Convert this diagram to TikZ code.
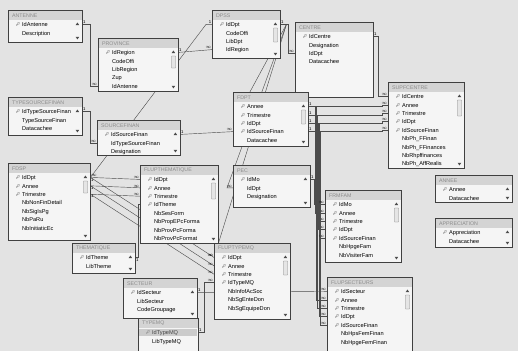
\documentclass[tikz,border=0pt]{standalone}
\usepackage{fontspec}
\setmainfont{Liberation Sans}
\newfontfamily\keyfont{Noto Emoji}
\usetikzlibrary{calc}
\pgfdeclarelayer{back}
\pgfdeclarelayer{lines}
\pgfsetlayers{back,lines,main}

% name, x, y, width, height, title, keys, fields, thumb (-1: no scroll bar)
\newcommand{\dbtable}[9]{%
\node [tbl, minimum width=#4*0.05cm, minimum height=#5*0.05cm] (#1) at (#2,-#3) {};
\fill [ttlbar] ($(#1.north west)+(0.5,-0.5)$) rectangle ($(#1.north east)+(-0.5,-10)$);
\node [ttl] (#1-t) at ($(#1.north west)+(4,-5.5)$) {#6};
\foreach \fn [count=\i] in {#8} \node [fld] (#1-\i) at ($(#1.north west)+(14,-6-8.4*\i)$) {\fn};
\foreach \i in {1,...,#7} \node [pk] (#1-k\i) at ($(#1-\i.west)+(-4,0)$) {🔑};
\ifnum#9<0\else
\fill [arr] ($(#1.north east)+(-5,-12.5)$) -- ++(1.8,-2.6) -- ++(-3.6,0) -- cycle;
\fill [arr] ($(#1.south east)+(-5,3)$) -- ++(1.8,2.6) -- ++(-3.6,0) -- cycle;
\ifnum#9>0 \draw [thumb] ($(#1.north east)+(-7,-18)$) rectangle ++(4,-#9);\fi
\fi}

\begin{document}
\begin{tikzpicture}[scale=0.05]
\tikzstyle{tbl}=[draw=black!75, fill=black!4, line width=0.6pt, anchor=north west, inner sep=0pt]
\tikzstyle{ttlbar}=[fill=black!17]
\tikzstyle{ttl}=[anchor=west, inner sep=0pt, text=black!45, font=\fontsize{7.5}{8}\selectfont]
\tikzstyle{fld}=[anchor=west, inner sep=0pt, text height=1.5ex, text depth=0.3ex, text=black, font=\fontsize{8}{9}\selectfont]
\tikzstyle{pk}=[inner sep=0pt, font=\keyfont\fontsize{5}{5}\selectfont]
\tikzstyle{arr}=[black!70]
\tikzstyle{thumb}=[draw=black!50, fill=black!10, rounded corners=0.5pt]
\tikzstyle{rel}=[draw=black!70, line width=0.6pt]
\tikzstyle{one}=[inner sep=0.8pt, anchor=south west, font=\fontsize{6}{6}\selectfont]
\tikzstyle{many}=[inner sep=0.8pt, anchor=south east, font=\fontsize{7}{7}\selectfont]
\useasboundingbox (0,0) rectangle (518,-351);
\begin{pgfonlayer}{back}
\fill [black!11] (0,0) rectangle (518,-351);
\end{pgfonlayer}

\dbtable{ant}{8}{10}{74}{32}{ANTENNE}{1}{IdAntenne,Description}{0}
\dbtable{prov}{98}{38}{80}{53}{PROVINCE}{1}{IdRegion,CodeOffi,LibRegion,Zup,IdAntenne}{12}
\dbtable{dpss}{212}{10}{68}{48}{DPSS}{1}{IdDpt,CodeOffi,LibDpt,IdRegion}{14}
\dbtable{centre}{295}{22}{78}{75}{CENTRE}{1}{IdCentre,Designation,IdDpt,Datacachee}{-1}
\dbtable{tsf}{8}{97}{74}{38}{TYPESOURCEFINAN}{1}{IdTypeSourceFinan,TypeSourceFinan,Datacachee}{0}
\dbtable{sf}{97}{120}{83}{35}{SOURCEFINAN}{1}{IdSourceFinan,IdTypeSourceFinan,Designation}{0}
\dbtable{fdpt}{233}{92}{75}{54}{FDPT}{4}{Annee,Trimestre,IdDpt,IdSourceFinan,Datacachee}{14}
\dbtable{supf}{388}{82}{76}{86}{SUPFCENTRE}{5}{IdCentre,Annee,Trimestre,IdDpt,IdSourceFinan,NbPh\_FFinan,NbPh\_FFinances,NbRhpffinances,NbPh\_AffRealis}{16}
\dbtable{fdsp}{8}{163}{82}{77}{FDSP}{3}{IdDpt,Annee,Trimestre,NbNonFinDetail,NbSigIsPg,NbPaRu,NbInitiaticEc}{12}
\dbtable{flup}{140}{165}{78}{78}{FLUPTHEMATIQUE}{4}{IdDpt,Annee,Trimestre,IdTheme,NbSesForm,NbPropEPcForma,NbProvPcForma,NbProvPcFormat}{16}
\dbtable{pec}{233}{165}{77}{42}{PEC}{1}{IdMo,IdDpt,Designation}{0}
\dbtable{frm}{325}{190}{76}{72}{FRMFAM}{5}{IdMo,Annee,Trimestre,IdDpt,IdSourceFinan,NbHpgeFam,NbVisiterFam}{14}
\dbtable{annee}{435}{175}{77}{27}{ANNEE}{1}{Annee,Datacachee}{0}
\dbtable{appr}{435}{218}{77}{29}{APPRECIATION}{1}{Appreciation,Datacachee}{0}
\dbtable{theme}{72}{243}{63}{30}{THEMATIQUE}{1}{IdTheme,LibTheme}{0}
\dbtable{sect}{123}{278}{74}{40}{SECTEUR}{1}{IdSecteur,LibSecteur,CodeGroupage}{0}
\dbtable{tmq}{138}{318}{60}{45}{TYPEMQ}{1}{IdTypeMQ,LibTypeMQ}{-1}
\fill [black!40, opacity=0.45] ($(tmq.north west)+(1,-10.6)$) rectangle ($(tmq.north east)+(-1,-18.2)$);
\dbtable{pefs}{214}{243}{76}{76}{FLUPTYPEMQ}{4}{IdDpt,Annee,Trimestre,IdTypeMQ,NbInfofAcSoc,NbSgEnteDon,NbSgEquipeDon}{14}
\dbtable{fdit}{327}{277}{85}{80}{FLUPSECTEURS}{5}{IdSecteur,Annee,Trimestre,IdDpt,IdSourceFinan,NbHpsFemFinan,NbHpgeFemFinan}{14}

\begin{pgfonlayer}{lines}
\draw [rel] (ant-1 -| ant.east) node [one] {1} -- ++(8,0) |- (prov-5 -| prov.west) node [many] {$\infty$};
\draw [rel] (prov-1 -| prov.east) node [one] {1} -- (dpss-4 -| dpss.west) node [many] {$\infty$};
\draw [rel] (dpss-1 -| dpss.west) node [one, anchor=south east] {1} -- ++(-6,0) -- (fdsp-1 -| fdsp.east) node [many, anchor=south west] {$\infty$};
\draw [rel] (dpss-1 -| dpss.east) node [one] {1} -- ++(8,0) |- (centre-3 -| centre.west) node [many] {$\infty$};
\draw [rel] (dpss-1 -| dpss.east) -- ++(6,0) -- (fdpt-3 -| fdpt.west);
\draw [rel] (dpss-1 -| dpss.east) -- ++(6,0) -- ($(pec-2 -| pec.west)+(-6,0)$) -- (pec-2 -| pec.west) node [many] {$\infty$};
\draw [rel] (dpss-1 -| dpss.east) -- ++(6,0) -- (pefs-1 -| pefs.west) node [many] {$\infty$};
\draw [rel] (centre-1 -| centre.east) node [one] {1} -- ++(5,0) |- (supf-1 -| supf.west) node [many] {$\infty$};
\draw [rel] (tsf-1 -| tsf.east) node [one] {1} -- ++(8,0) |- (sf-2 -| sf.west) node [many] {$\infty$};
\draw [rel] (sf-1 -| sf.east) node [one] {1} -- (fdpt-4 -| fdpt.west) node [many] {$\infty$};
\foreach \i in {1,...,4} {
  \pgfmathtruncatemacro{\j}{\i+1}
  \draw [rel] (fdpt-\i -| fdpt.east) node [one] {1} -- ++(74,0) |- (supf-\j -| supf.west) node [many] {$\infty$};
  \draw [rel] (fdpt-\i -| fdpt.east) -- ++(5+1.5*\i,0) |- (frm-\j -| frm.west) node [many] {$\infty$};
  \draw [rel] (fdpt-\i -| fdpt.east) -- ++(5.8+1.5*\i,0) |- (fdit-\j -| fdit.west) node [many] {$\infty$};
}
\draw [rel] (pec-1 -| pec.east) node [one] {1} -- ++(4,0) |- (frm-1 -| frm.west) node [many] {$\infty$};
\foreach \i in {1,2,3} {
  \draw [rel] (fdsp-\i -| fdsp.east) node [one, anchor=north west] {1} -- (flup-\i -| flup.west) node [many] {$\infty$};
  \draw [rel] (fdsp-\i -| fdsp.east) -- (pefs-\i -| pefs.west) node [many] {$\infty$};
}
\draw [rel] (theme-1 -| theme.east) node [one, anchor=north west] {1} -- ++(2.5,0) |- (flup-4 -| flup.west);
\draw [rel] (sect-1 -| sect.east) node [one] {1} -- (fdit-1 -| fdit.west) node [many] {$\infty$};
\draw [rel] (tmq-1 -| tmq.east) node [one] {1} -- ++(6,0) |- (pefs-4 -| pefs.west) node [many] {$\infty$};
\end{pgfonlayer}
\end{tikzpicture}
\end{document}
